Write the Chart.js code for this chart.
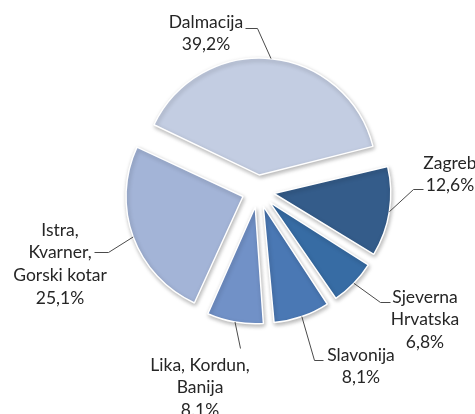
<!DOCTYPE html>
<html>
<head>
<meta charset="utf-8">
<script src="https://cdn.jsdelivr.net/npm/chart.js@4/dist/chart.umd.min.js"></script>
<style>
  html, body { margin: 0; padding: 0; background: #fff; }
  canvas { display: block; }
</style>
</head>
<body>
<canvas id="myChart" width="475" height="414"></canvas>
<script>
// regions, clockwise from Dalmacija
const categories = [
  ["Dalmacija"],
  ["Zagreb"],
  ["Sjeverna", "Hrvatska"],
  ["Slavonija"],
  ["Lika, Kordun,", "Banija"],
  ["Istra,", "Kvarner,", "Gorski kotar"],
];
const shares = [39.2, 12.6, 6.8, 8.1, 8.1, 25.1];
const shareLabels = ["39,2%", "12,6%", "6,8%", "8,1%", "8.1%", "25,1%"];

const colors = ["#c3cde2", "#345c8a", "#376ca4", "#4a78b4", "#7191c7", "#a3b4d7"];
const explode = 64; // chart.js moves the slice by offset/4
const pieRadius = 117;

// where each label and its leader line sit
const labelLayout = [
  { x: 206, y: 22, elbow: [257, 28], end: [245, 28] },
  { x: 450, y: 163, elbow: [413, 189], end: [423, 189] },
  { x: 425, y: 297, elbow: [380, 302], end: [390, 302] },
  { x: 361, y: 355, elbow: [314, 360], end: [323, 360] },
  { x: 200, y: 365, elbow: [240, 348], end: null },
  { x: 60, y: 230, elbow: [108, 252], end: [94, 252] },
];

// v4 grows small exploded slices a bit, undo that so every slice has the same radius
const evenRadius = {
  id: "evenRadius",
  afterDatasetsUpdate(chart) {
    const meta = chart.getDatasetMeta(0);
    meta.data.forEach(function (arc) {
      const fix = 1 - Math.sin(Math.min(Math.PI, arc.circumference));
      arc.outerRadius = pieRadius - (explode / 4) * fix;
    });
  },
};

const sliceShadow = {
  id: "sliceShadow",
  beforeDatasetsDraw(chart) {
    const ctx = chart.ctx;
    ctx.save();
    ctx.shadowColor = "rgba(0,0,0,0.28)";
    ctx.shadowBlur = 4;
    ctx.shadowOffsetX = 1;
    ctx.shadowOffsetY = 2;
  },
  afterDatasetsDraw(chart) {
    chart.ctx.restore();
  },
};

const outsideLabels = {
  id: "outsideLabels",
  afterDraw(chart) {
    const ctx = chart.ctx;
    const meta = chart.getDatasetMeta(0);
    ctx.save();
    ctx.font = "17.5px Lato";
    ctx.fillStyle = "#262626";
    ctx.textAlign = "center";
    ctx.textBaseline = "middle";
    ctx.strokeStyle = "#4a4a4a";
    ctx.lineWidth = 1;

    meta.data.forEach(function (arc, i) {
      const mid = (arc.startAngle + arc.endAngle) / 2;
      const dist = explode / 4 + pieRadius;
      const sx = arc.x + Math.cos(mid) * dist;
      const sy = arc.y + Math.sin(mid) * dist;
      const lay = labelLayout[i];

      ctx.beginPath();
      ctx.moveTo(sx, sy);
      ctx.lineTo(lay.elbow[0] + 0.5, lay.elbow[1] + 0.5);
      if (lay.end) ctx.lineTo(lay.end[0] + 0.5, lay.end[1] + 0.5);
      ctx.stroke();

      const lines = categories[i].concat([shareLabels[i]]);
      lines.forEach(function (t, k) {
        ctx.fillText(t, lay.x, lay.y + k * 22.7);
      });
    });
    ctx.restore();
  },
};

const ctx = document.getElementById("myChart").getContext("2d");

const myChart = new Chart(ctx, {
  type: "pie",
  data: {
    labels: categories,
    datasets: [
      {
        data: shares,
        backgroundColor: colors,
        borderColor: "#ffffff",
        borderWidth: 1.5,
        offset: explode,
        radius: pieRadius,
      },
    ],
  },
  options: {
    responsive: false,
    animation: false,
    events: [],
    rotation: -65,
    layout: {
      padding: { left: 41, right: 0, top: 0, bottom: 32 },
    },
    plugins: {
      legend: { display: false },
      tooltip: { enabled: false },
    },
  },
  plugins: [evenRadius, sliceShadow, outsideLabels],
});
</script>
</body>
</html>
